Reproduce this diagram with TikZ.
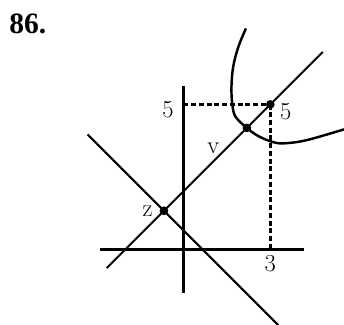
\documentclass[tikz,border=0pt]{standalone}
\usepackage{fontspec}
\newfontfamily\headfont{Liberation Serif}
\begin{document}
\begin{tikzpicture}[line cap=butt, every node/.style={font=\fontsize{24}{28}\selectfont, inner sep=0pt},
        axis/.style={line width=3pt},
        graphline/.style={line width=2pt},
        guide/.style={line width=2.8pt, dash pattern=on 5pt off 2.6pt},
        dot/.style={circle, fill, minimum size=8.5pt, inner sep=0pt}]
        \useasboundingbox (-6.32,-2.58) rectangle (5.54,8.60);
        \node[font=\headfont\bfseries\fontsize{29}{32}\selectfont] (title) at (-5.36,7.79) {86.};
        % axes
        \coordinate (xleft) at (-2.87,0);
        \coordinate (xright) at (4.17,0);
        \coordinate (ybottom) at (0,-1.5);
        \coordinate (ytop) at (0,5.62);
        \coordinate (yfive) at (0,5);
        \coordinate (xthree) at (3,0);
        \draw[axis] (xleft) -- (xright);
        \draw[axis] (ybottom) -- (ytop);
        % the two lines
        \coordinate (uplow) at (-2.64,-0.64);
        \coordinate (uphigh) at (4.81,6.81);
        \coordinate (downhigh) at (-3.3,3.965);
        \coordinate (downlow) at (3.28,-2.615);
        \draw[graphline] (uplow) -- (uphigh);
        \draw[graphline] (downhigh) -- (downlow);
        % curve
        \draw[line width=2.4pt] plot[smooth, tension=0.6] coordinates
            {(2.16,7.62) (1.90,6.99) (1.72,6.30) (1.66,5.6) (1.69,5.0) (1.80,4.58) (2.19,4.19)
             (2.6,3.9) (3.1,3.7) (3.5,3.66) (4.26,3.77) (5.54,4.14)};
        % points
        \node[dot] (point-p) at (3,5) {};
        \node[dot] (point-v) at (2.19,4.19) {};
        \node[dot] (point-z) at (-0.6675,1.3325) {};
        \draw[guide] (yfive) -- (point-p.center);
        \draw[guide] (point-p.center) -- (xthree);
        % labels
        \node (label-y5) at (-0.53,4.81) {5};
        \node (label-p5) at (3.53,4.76) {5};
        \node (label-v) at (1.03,3.5) {v};
        \node (label-z) at (-1.23,1.33) {z};
        \node (label-x3) at (3.0,-0.48) {3};
    \end{tikzpicture}
\end{document}
